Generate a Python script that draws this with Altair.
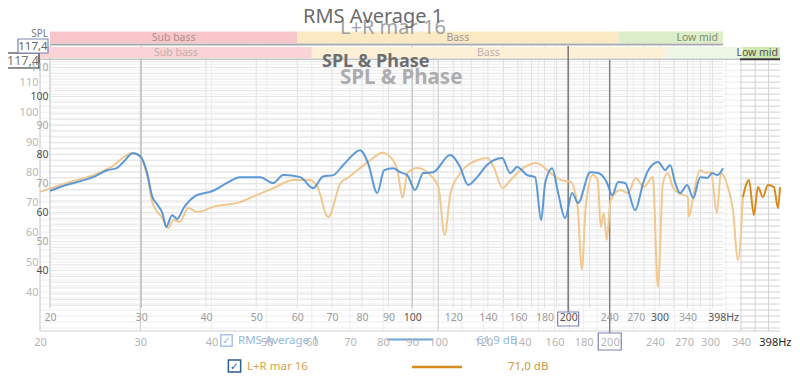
import altair as alt
import pandas as pd

# ---------------- data ----------------
BLUE_F = [20, 21.5, 24.2, 25.8, 26.9, 27.7, 28.9, 29.8, 30.8, 31.5,
          32.2, 33.0, 33.5, 34.4, 35.2, 36.2, 38.0, 41.3, 43.9, 46.5,
          50.9, 53.9, 56.4, 60.8, 64.4, 67.3, 70.4, 73.6, 75.5, 79.3,
          82.2, 85.6, 88.3, 91.9, 94.8, 97.8, 101.3, 105.0, 109.8, 118.4,
          123.7, 128.2, 133.5, 139.5, 149.2, 154.5, 159.4, 166.7, 172.7, 177.4,
          180.6, 186.3, 191.3, 197.3, 203.6, 209.0, 220.6, 228.6, 237.8, 243.2,
          249.8, 257.6, 269.4, 279.2, 285.5, 298.4, 307.9, 314.7, 321.8, 329.0,
          339.4, 348.7, 359.7, 371.0, 379.4, 388.0, 398.0]
BLUE_DB = [67.5, 69.5, 72.2, 74.6, 75.3, 77.4, 80.4, 79.6, 73.5, 65.5,
           62.8, 59.5, 55.0, 59.1, 57.8, 61.5, 65.5, 67.5, 70.2, 72.2,
           72.2, 70.2, 72.9, 72.2, 68.4, 72.4, 72.9, 76.4, 78.5, 81.5,
           77.0, 66.7, 74.6, 75.3, 73.9, 72.9, 67.8, 73.6, 73.9, 79.8,
           75.7, 69.5, 72.2, 76.4, 78.8, 73.6, 75.7, 72.9, 72.2, 57.4,
           70.2, 75.3, 66.7, 58.1, 66.7, 63.3, 73.9, 73.6, 70.2, 66.0,
           70.5, 70.2, 60.8, 70.2, 74.6, 77.4, 74.6, 76.4, 70.2, 66.7,
           69.5, 65.0, 72.2, 71.9, 73.6, 72.9, 75.3]

ORANGE_F = [20, 22.3, 24.8, 26.5, 29.1, 30.0, 31.0, 31.5, 32.8, 33.6, 34.3,
            35.2, 36.4, 37.8, 40.3, 44.9, 48.1, 51.4, 55.7, 59.6, 61.4,
            64.1, 67.4, 69.3, 72.2, 76.0, 79.8, 82.4, 84.8, 86.6, 88.3,
            92.0, 96.9, 100.1, 102.6, 105.1, 109.4, 117.2, 122.1, 125.1, 129.7,
            134.0, 141.2, 148.3, 151.3, 157.5, 164.0, 170.8, 175.7, 178.6, 181.5,
            186.7, 190.5, 192.9, 195.2, 197.6, 200.8, 209.0, 215.2, 222.2, 229.6,
            238.0, 243.0, 248.0, 253.0, 258.0, 264.4, 274.2, 275.4, 281.0, 287.8,
            295.0, 301.0, 308.4, 313.4, 322.4, 329.0, 335.8, 342.6, 351.0, 358.2,
            364.0, 371.4, 379.0, 388.4, 394.8, 398.0]
ORANGE_DB = [73.4, 76.4, 79.0, 81.4, 86.4, 85.1, 77.0, 69.7, 64.7, 61.4, 64.0,
             63.4, 68.0, 66.7, 68.4, 70.0, 72.4, 74.7, 77.4, 77.4, 75.0,
             65.0, 76.4, 78.0, 80.7, 84.0, 86.5, 85.1, 80.7, 71.4, 79.7,
             81.4, 79.0, 75.0, 59.0, 73.0, 79.7, 84.0, 84.7, 81.7, 74.7,
             77.4, 81.4, 83.0, 82.4, 79.7, 77.4, 76.7, 68.4, 47.4, 68.4,
             79.0, 77.4, 61.7, 66.4, 57.4, 70.7, 74.0, 73.0, 78.0, 75.0,
             78.4, 41.7, 76.4, 79.7, 75.0, 73.0, 71.7, 65.0, 73.0, 80.7,
             79.7, 80.0, 66.4, 79.7, 75.0, 67.4, 50.7, 71.7, 77.4, 65.7,
             75.0, 71.7, 75.7, 75.0, 68.0, 75.0]

X_TICKS = [20, 30, 40, 50, 60, 70, 80, 90, 100, 120, 140, 160, 180, 200,
           240, 270, 300, 340, 398]
Y_TICKS = [40, 50, 60, 70, 80, 90, 100, 110]
GRID_F = [20, 30, 40, 50, 60, 70, 80, 90, 100, 110, 120, 130, 140, 150, 160,
          170, 180, 190, 200, 220, 240, 260, 280, 300, 320, 340, 360, 380]
GRID_DB = list(range(28, 118, 2))
EMPH_F = [30, 100]
CURSOR_F = [200]
BANDS = ["Sub bass", "Bass", "Low mid"]
BAND_LO = [20, 60, 250]
BAND_HI = [60, 250, 398]
TOP_LABEL = "117,4"
SERIES = ["RMS Average 1", "L+R mar 16"]
SERIES_LEVEL = ["61,9 dB", "71,0 dB"]
TITLE = "SPL & Phase"

# ---------------- styling ----------------
FONT = "Noto Sans"
FADE_F = 342.6
UPPER_COLORS = ["#f8c6ca", "#fbe9c4", "#dcedc9"]
LOWER_KEYS = ["Sub bass", "Bass", "Low mid faded", "Low mid"]
LOWER_COLORS = ["#f9d3d6", "#fcf0d7", "#eef6e6", "#cfe8ad"]

XF = alt.Scale(type="log", domain=[20, 398], range=[10, 683], nice=False)
YF = alt.Scale(type="linear", domain=[27.1, 117.4], range=[277, 15], nice=False, zero=False)
XB = alt.Scale(type="log", domain=[20, 398], range=[0, 740], nice=False)
YB = alt.Scale(type="linear", domain=[27.0, 117.4], range=[300, 29], nice=False, zero=False)


def xq(field, scale, axis=None):
    return alt.X(field, type="quantitative", scale=scale, axis=axis)


def yq(field, scale, axis=None):
    return alt.Y(field, type="quantitative", scale=scale, axis=axis)


one = pd.DataFrame({"k": [0]})


def hrule(x1, x2, y, color, w=1.0):
    return alt.Chart(one).mark_rule(color=color, strokeWidth=w).encode(
        x=alt.value(x1), x2=alt.value(x2), y=alt.value(y))


def vrule(x, y1, y2, color, w=1.0):
    return alt.Chart(one).mark_rule(color=color, strokeWidth=w).encode(
        x=alt.value(x), y=alt.value(y1), y2=alt.value(y2))


def text(t, x, y, size, color, weight="normal", align="left", baseline="alphabetic", font=FONT):
    return alt.Chart(pd.DataFrame({"t": [t]})).mark_text(
        align=align, baseline=baseline, fontSize=size, color=color,
        fontWeight=weight, font=font).encode(text="t:N", x=alt.value(x), y=alt.value(y))


def box_shape(w, h):
    r = h / w
    return f"M-1,{-r:.4f}H1V{r:.4f}H-1Z", w * w


def box(x, y, w, h, stroke, fill="white", fill_opacity=1.0):
    shape, size = box_shape(w, h)
    return alt.Chart(one).mark_point(
        shape=shape, size=size, filled=True, fill=fill, fillOpacity=fill_opacity,
        stroke=stroke, strokeWidth=1.2, opacity=1).encode(x=alt.value(x), y=alt.value(y))


common_axis = dict(grid=False, ticks=False, domain=False, title=None, labelFont=FONT,
                   labelOverlap=False, labelFlush=False, zindex=1)

ax_bx = alt.Axis(orient="bottom", offset=0, values=X_TICKS, labelPadding=5, labelFontSize=11,
                 labelExpr="datum.value == 398 ? '398Hz' : '' + datum.value",
                 labelAlign={"condition": {"test": "datum.value == 398", "value": "right"},
                             "value": "center"},
                 labelOffset={"condition": {"test": "datum.value == 398", "value": 11},
                              "value": 0},
                 labelColor={"condition": {"test": "datum.value == 398", "value": "#1e1e1e"},
                             "value": "#b6b6b6"}, **common_axis)
ax_fx = alt.Axis(orient="bottom", offset=-23, values=X_TICKS, labelPadding=4, labelFontSize=10.5,
                 labelExpr="datum.value == 398 ? '398Hz' : '' + datum.value",
                 labelColor={"condition": {"test": "datum.value == 100 || datum.value == 200 || datum.value == 300 || datum.value == 398",
                                           "value": "#555555"}, "value": "#9c9c9c"}, **common_axis)
ax_by = alt.Axis(orient="left", offset=0, values=Y_TICKS, labelPadding=2, labelFontSize=11,
                 labelColor="#b8b8b8", **common_axis)
ax_fy = alt.Axis(orient="left", offset=-10, values=Y_TICKS, labelPadding=2, labelFontSize=10.5,
                 labelColor={"condition": {"test": "datum.value % 20 == 0", "value": "#505050"},
                             "value": "#a8a8a8"}, **common_axis)

grid_f = pd.DataFrame({"f": GRID_F})
grid_db = pd.DataFrame({"v": GRID_DB})
emph = pd.DataFrame({"f": EMPH_F})
cursor = pd.DataFrame({"f": CURSOR_F})
bands = pd.DataFrame({"band": BANDS, "lo": BAND_LO, "hi": BAND_HI})
bands["mid"] = (bands["lo"] * bands["hi"]) ** 0.5
lower = pd.DataFrame({"key": LOWER_KEYS,
                      "lo": BAND_LO + [FADE_F],
                      "hi": BAND_HI[:2] + [FADE_F, BAND_HI[2]]})
blue = pd.DataFrame({"f": BLUE_F, "db": BLUE_DB})
orange = pd.DataFrame({"f": ORANGE_F, "db": ORANGE_DB})

L = []
# background chart grid
L.append(alt.Chart(grid_f).mark_rule(strokeWidth=1).encode(
    x=xq("f", XB, ax_bx), y=alt.value(29), y2=alt.value(300),
    color=alt.condition(f"datum.f > {FADE_F - 5}", alt.value("#d2d2d2"), alt.value("#ececec"))))
L.append(alt.Chart(grid_db).mark_rule(color="#eeeeee").encode(
    y=yq("v", YB, ax_by), x=alt.value(0), x2=alt.value(700)))
L.append(alt.Chart(grid_db).mark_rule(color="#d2d2d2").encode(
    y=yq("v", YB), x=alt.value(700), x2=alt.value(740)))
# front chart grid
L.append(alt.Chart(grid_f).mark_rule(color="#e1e1e1").encode(
    x=xq("f", XF, ax_fx), y=alt.value(15), y2=alt.value(277)))
L.append(alt.Chart(grid_db).mark_rule(color="#e6e6e6").encode(
    y=yq("v", YF, ax_fy), x=alt.value(10), x2=alt.value(683)))
# emphasised lines
L.append(alt.Chart(emph).mark_rule(color="#cdcdcd").encode(
    x=xq("f", XB), y=alt.value(29), y2=alt.value(300)))
L.append(alt.Chart(emph).mark_rule(color="#bdbdbd").encode(
    x=xq("f", XF), y=alt.value(15), y2=alt.value(277)))
# borders
L.append(vrule(0, 29, 300, "#d0d0d0"))
L.append(hrule(0, 740, 300, "#d0d0d0"))
L.append(vrule(10, 15, 277, "#cccccc"))
# frequency band strips
L.append(alt.Chart(bands).mark_rect().encode(
    x=xq("lo", XF), x2=alt.X2("hi"), y=alt.value(0.5), y2=alt.value(12),
    color=alt.Color("band:N", scale=alt.Scale(domain=BANDS, range=UPPER_COLORS), legend=None)))
L.append(alt.Chart(lower).mark_rect().encode(
    x=xq("lo", XB), x2=alt.X2("hi"), y=alt.value(16), y2=alt.value(27),
    color=alt.Color("key:N", scale=alt.Scale(domain=LOWER_KEYS, range=LOWER_COLORS), legend=None)))
L.append(hrule(10, 683, 13.5, "#a9a9a9", 2))
L.append(hrule(0, 700, 28.3, "#c4c4c4", 1.5))
L.append(hrule(700, 740, 28.3, "#3a3a3a", 2))
L.append(alt.Chart(bands).transform_filter("datum.band != 'Low mid'").mark_text(
    fontSize=10.5, font=FONT, color="#a99292", baseline="middle").encode(
    x=xq("mid", XF), y=alt.value(6.5), text="band:N"))
L.append(alt.Chart(bands).transform_filter("datum.band == 'Low mid'").mark_text(
    fontSize=10.5, font=FONT, color="#7f8f72", baseline="middle", align="right", dx=-5).encode(
    x=xq("hi", XF), y=alt.value(6.5), text="band:N"))
L.append(alt.Chart(bands).transform_filter("datum.band != 'Low mid'").mark_text(
    fontSize=10.5, font=FONT, color="#c2afaf", baseline="middle").encode(
    x=xq("mid", XB), y=alt.value(21.5), text="band:N"))
L.append(alt.Chart(bands).transform_filter("datum.band == 'Low mid'").mark_text(
    fontSize=10.5, font=FONT, color="#555555", baseline="middle", align="right", dx=-2).encode(
    x=xq("hi", XB), y=alt.value(21.5), text="band:N"))
# cursors at 200 Hz
L.append(alt.Chart(cursor).mark_rule(color="#707070", strokeWidth=1.2).encode(
    x=xq("f", XB), y=alt.value(29), y2=alt.value(302)))
L.append(alt.Chart(cursor).mark_rule(color="#5c5c5c", strokeWidth=1.2).encode(
    x=xq("f", XF), y=alt.value(15), y2=alt.value(281)))
shape_f, size_f = box_shape(21, 14)
L.append(alt.Chart(cursor).mark_point(shape=shape_f, size=size_f, filled=False,
                                      stroke="#7a82b8", strokeWidth=1.2, opacity=1).encode(
    x=xq("f", XF), y=alt.value(288)))
shape_b, size_b = box_shape(23, 17)
L.append(alt.Chart(cursor).mark_point(shape=shape_b, size=size_b, filled=False,
                                      stroke="#7a82b8", strokeWidth=1.2, opacity=1).encode(
    x=xq("f", XB), y=alt.value(310.5)))
# curves
L.append(alt.Chart(orange).transform_filter(f"datum.f <= {FADE_F}").mark_line(
    color="#f1c88f", strokeWidth=2, interpolate="monotone").encode(
    x=xq("f", XB), y=yq("db", YB)))
L.append(alt.Chart(orange).transform_filter(f"datum.f >= {FADE_F}").mark_line(
    color="#d98b1c", strokeWidth=2, interpolate="monotone").encode(
    x=xq("f", XB), y=yq("db", YB)))
L.append(alt.Chart(blue).mark_line(
    color="#4b8fd3", strokeWidth=2, interpolate="monotone", opacity=0.9).encode(
    x=xq("f", XF), y=yq("db", YF)))
# titles
L.append(text(SERIES[1], 300, 3, 20, "#a2a2a2"))
L.append(text(SERIES[0], 263, -8, 20, "#6b6b6b"))
L.append(text(TITLE, 300, 53, 20.5, "#adadad", weight="bold"))
L.append(text(TITLE, 282, 36, 18, "#6e6e6e", weight="bold"))
L.append(text("SPL", 8, 6, 10, "#7a7a7a", align="right"))
# top-of-axis boxes
L.append(box(-17, 29.5, 32, 15, "#222222"))
L.append(text(TOP_LABEL, -17, 30, 12.5, "#777777", align="center", baseline="middle"))
L.append(box(-7, 15, 30, 14, "#7c84b4"))
L.append(text(TOP_LABEL, -7, 15.5, 11.5, "#666666", align="center", baseline="middle"))
# legend
L.append(alt.Chart(one).mark_point(shape="square", size=130, filled=False, stroke="#a6c5e5",
                                   strokeWidth=1.5, opacity=1).encode(x=alt.value(186.5), y=alt.value(309.5)))
L.append(text("✓", 186.5, 310, 10, "#8fb8e0", weight="bold", align="center", baseline="middle", font="DejaVu Sans"))
L.append(text(SERIES[0], 198, 310, 11.5, "#93b9de", baseline="middle"))
L.append(hrule(347, 393, 308.5, "#6fa3da", 2))
L.append(text(SERIES_LEVEL[0], 437, 310, 11.5, "#93b9de", baseline="middle"))
L.append(alt.Chart(one).mark_point(shape="square", size=150, filled=False, stroke="#2c5d8e",
                                   strokeWidth=1.5, opacity=1).encode(x=alt.value(194.5), y=alt.value(335)))
L.append(text("✓", 194.5, 335.5, 10.5, "#2c5d8e", weight="bold", align="center", baseline="middle", font="DejaVu Sans"))
L.append(text(SERIES[1], 207, 336, 11.5, "#d9a441", baseline="middle"))
L.append(hrule(372, 422, 336, "#d68b1f", 2.5))
L.append(text(SERIES_LEVEL[1], 468, 336, 11.5, "#c99a45", baseline="middle"))

chart = alt.layer(*L).resolve_scale(
    x="independent", y="independent", color="independent"
).properties(
    width=740, height=300,
    autosize=alt.AutoSizeParams(type="none"),
    padding={"left": 32, "top": 23, "right": 12, "bottom": 43},
    background="white",
).configure_view(stroke=None)

chart.save("out.html", embed_options={"renderer": "svg", "actions": False})
